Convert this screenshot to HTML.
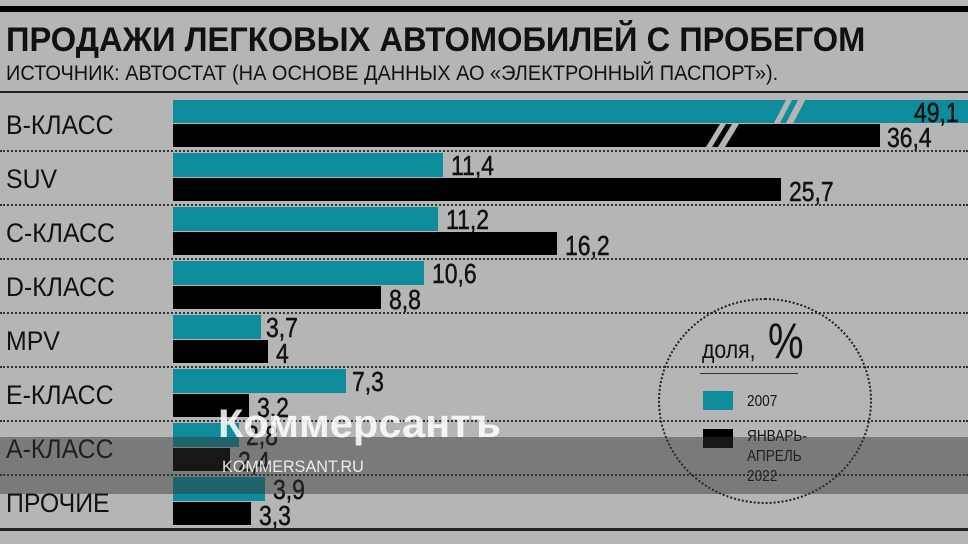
<!DOCTYPE html>
<html><head><meta charset="utf-8"><style>
*{margin:0;padding:0;box-sizing:border-box}
body{width:968px;height:544px;background:#b5b5b5;position:relative;overflow:hidden;font-family:"Liberation Sans",sans-serif;color:#111}
.a{position:absolute}
.n{transform-origin:0 0;transform:scaleX(0.85);white-space:nowrap}
.t{background:#0f8c9b}.k{background:#000}
.lbl{font-size:27px;line-height:27px;transform:scaleX(0.92)}
.val{font-size:28px;line-height:24px;transform-origin:0 0;transform:scaleX(0.82);white-space:nowrap;-webkit-text-stroke:0.5px #111}
.dot{position:absolute;left:0;width:968px;border-top:2px dotted #333}
.s{position:absolute;background:#b5b5b5}
</style></head><body>
<div class="a k" style="left:0;top:6px;width:968px;height:6px"></div>
<div class="a n" style="left:6px;top:23px;font-size:34px;font-weight:bold;line-height:34px;transform:scaleX(0.96)">ПРОДАЖИ ЛЕГКОВЫХ АВТОМОБИЛЕЙ С ПРОБЕГОМ</div>
<div class="a n" style="left:6px;top:63px;font-size:21px;line-height:21px;transform:scaleX(0.95)">ИСТОЧНИК: АВТОСТАТ (НА ОСНОВЕ ДАННЫХ АО «ЭЛЕКТРОННЫЙ ПАСПОРТ»).</div>
<div class="a" style="left:0;top:91px;width:968px;height:2px;background:#222"></div>

<div class="a lbl n" style="left:6px;top:112px">B-КЛАСС</div>
<div class="a t" style="left:173px;top:100px;width:795px;height:23px"></div>
<div class="s" style="left:770px;top:100px;width:40px;height:23px;clip-path:polygon(40% 0,55% 0,25% 100%,10% 100%)"></div>
<div class="s" style="left:770px;top:100px;width:40px;height:23px;clip-path:polygon(70% 0,88% 0,58% 100%,40% 100%)"></div>
<div class="a k" style="left:173px;top:124px;width:707px;height:23px"></div>
<div class="s" style="left:700px;top:124px;width:50px;height:23px;clip-path:polygon(40% 0,52% 0,24% 100%,12% 100%)"></div>
<div class="s" style="left:700px;top:124px;width:50px;height:23px;clip-path:polygon(64% 0,78% 0,50% 100%,36% 100%)"></div>
<div class="a val" style="left:914px;top:101px">49,1</div>
<div class="a val" style="left:887px;top:126px">36,4</div>
<div class="dot" style="top:150px"></div>

<div class="a lbl n" style="left:6px;top:166px">SUV</div>
<div class="a t" style="left:173px;top:153px;width:270px;height:24px"></div>
<div class="a k" style="left:173px;top:178px;width:608px;height:23px"></div>
<div class="a val" style="left:451px;top:154px">11,4</div>
<div class="a val" style="left:789px;top:180px">25,7</div>
<div class="dot" style="top:204px"></div>

<div class="a lbl n" style="left:6px;top:220px">C-КЛАСС</div>
<div class="a t" style="left:173px;top:207px;width:265px;height:24px"></div>
<div class="a k" style="left:173px;top:232px;width:384px;height:23px"></div>
<div class="a val" style="left:446px;top:208px">11,2</div>
<div class="a val" style="left:565px;top:234px">16,2</div>
<div class="dot" style="top:258px"></div>

<div class="a lbl n" style="left:6px;top:274px">D-КЛАСС</div>
<div class="a t" style="left:173px;top:261px;width:251px;height:24px"></div>
<div class="a k" style="left:173px;top:286px;width:208px;height:23px"></div>
<div class="a val" style="left:432px;top:262px">10,6</div>
<div class="a val" style="left:389px;top:288px">8,8</div>
<div class="dot" style="top:312px"></div>

<div class="a lbl n" style="left:6px;top:328px">MPV</div>
<div class="a t" style="left:173px;top:315px;width:88px;height:24px"></div>
<div class="a k" style="left:173px;top:340px;width:95px;height:23px"></div>
<div class="a val" style="left:266px;top:316px">3,7</div>
<div class="a val" style="left:276px;top:342px">4</div>
<div class="dot" style="top:366px"></div>

<div class="a lbl n" style="left:6px;top:382px">E-КЛАСС</div>
<div class="a t" style="left:173px;top:369px;width:173px;height:24px"></div>
<div class="a k" style="left:173px;top:394px;width:76px;height:23px"></div>
<div class="a val" style="left:352px;top:370px">7,3</div>
<div class="a val" style="left:257px;top:396px">3,2</div>
<div class="dot" style="top:420px"></div>

<div class="a lbl n" style="left:6px;top:436px">A-КЛАСС</div>
<div class="a t" style="left:173px;top:423px;width:66px;height:24px"></div>
<div class="a k" style="left:173px;top:448px;width:57px;height:23px"></div>
<div class="a val" style="left:246px;top:424px">2,8</div>
<div class="a val" style="left:238px;top:450px">2,4</div>
<div class="dot" style="top:474px"></div>

<div class="a lbl n" style="left:6px;top:490px">ПРОЧИЕ</div>
<div class="a t" style="left:173px;top:477px;width:92px;height:24px"></div>
<div class="a k" style="left:173px;top:502px;width:78px;height:23px"></div>
<div class="a val" style="left:273px;top:478px">3,9</div>
<div class="a val" style="left:259px;top:504px">3,3</div>
<div class="a" style="left:0;top:528px;width:968px;height:3px;background:#222"></div>

<div class="a" style="left:658px;top:298px;width:214px;height:206px;border:2px dotted #222;border-radius:50%"></div>
<div class="a n" style="left:702px;top:338px;font-size:25px;line-height:25px">доля,</div>
<div class="a n" style="left:768px;top:316px;font-size:50px;line-height:50px;transform:scaleX(0.8)">%</div>
<div class="a" style="left:700px;top:373px;width:98px;height:1px;background:#333"></div>
<div class="a t" style="left:703px;top:391px;width:30px;height:19px"></div>
<div class="a n" style="left:747px;top:393px;font-size:16px">2007</div>
<div class="a k" style="left:703px;top:429px;width:30px;height:19px"></div>
<div class="a n" style="left:747px;top:427px;font-size:16px;line-height:20px">ЯНВАРЬ-<br>АПРЕЛЬ<br>2022</div>

<div class="a" style="left:0;top:437px;width:968px;height:57px;background:rgba(50,50,50,0.45)"></div>
<div class="a n" style="left:218px;top:402px;font-size:40px;font-weight:bold;color:rgba(255,255,255,0.85);transform:scaleX(1.04)">Коммерсантъ</div>
<div class="a n" style="left:222px;top:457px;font-size:17px;color:rgba(255,255,255,0.85);transform:scaleX(0.95)">KOMMERSANT.RU</div>
</body></html>
